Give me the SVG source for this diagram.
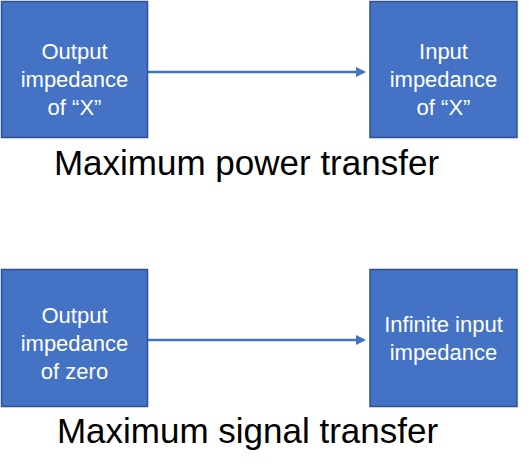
<svg xmlns="http://www.w3.org/2000/svg" width="529" height="476" viewBox="0 0 529 476">
<style>
.box{fill:#4472C4;stroke:#2F528F;stroke-width:1.5}
.bt{font-family:"Liberation Sans",Arial,sans-serif;font-size:22px;fill:#fff;text-anchor:middle}
.title{font-family:"Liberation Sans",Arial,sans-serif;font-size:35px;fill:#000;text-anchor:middle}
.conn{stroke:#4472C4;stroke-width:2.5;fill:none;marker-end:url(#ah)}
</style>
<defs>
<marker id="ah" markerWidth="10" markerHeight="10" refX="8" refY="5" orient="auto" markerUnits="userSpaceOnUse" viewBox="0 0 10 10">
<path d="M0,0 L10,5 L0,10 Z" fill="#4472C4"/>
</marker>
</defs>
<rect width="529" height="476" fill="#fff"/>
<g id="connectors">
<line class="conn" x1="148" y1="72" x2="364" y2="72"/>
<line class="conn" x1="148" y1="340" x2="364" y2="340"/>
</g>
<g id="out1">
<rect class="box" x="1.5" y="1.5" width="146" height="136"/>
<text class="bt" x="74.5" y="59">Output</text>
<text class="bt" x="74.5" y="87">impedance</text>
<text class="bt" x="74.5" y="115">of “X”</text>
</g>
<g id="in1">
<rect class="box" x="370" y="1.5" width="147" height="136"/>
<text class="bt" x="443.5" y="59">Input</text>
<text class="bt" x="443.5" y="87">impedance</text>
<text class="bt" x="443.5" y="115">of “X”</text>
</g>
<g id="title1"><text class="title" x="246.5" y="175">Maximum power transfer</text></g>
<g id="out2">
<rect class="box" x="1.5" y="269.5" width="146" height="137"/>
<text class="bt" x="74.5" y="323">Output</text>
<text class="bt" x="74.5" y="351">impedance</text>
<text class="bt" x="74.5" y="379">of zero</text>
</g>
<g id="in2">
<rect class="box" x="370" y="269.5" width="147" height="137"/>
<text class="bt" x="443.5" y="332">Infinite input</text>
<text class="bt" x="443.5" y="360">impedance</text>
</g>
<g id="title2"><text class="title" x="247.5" y="443">Maximum signal transfer</text></g>
</svg>
